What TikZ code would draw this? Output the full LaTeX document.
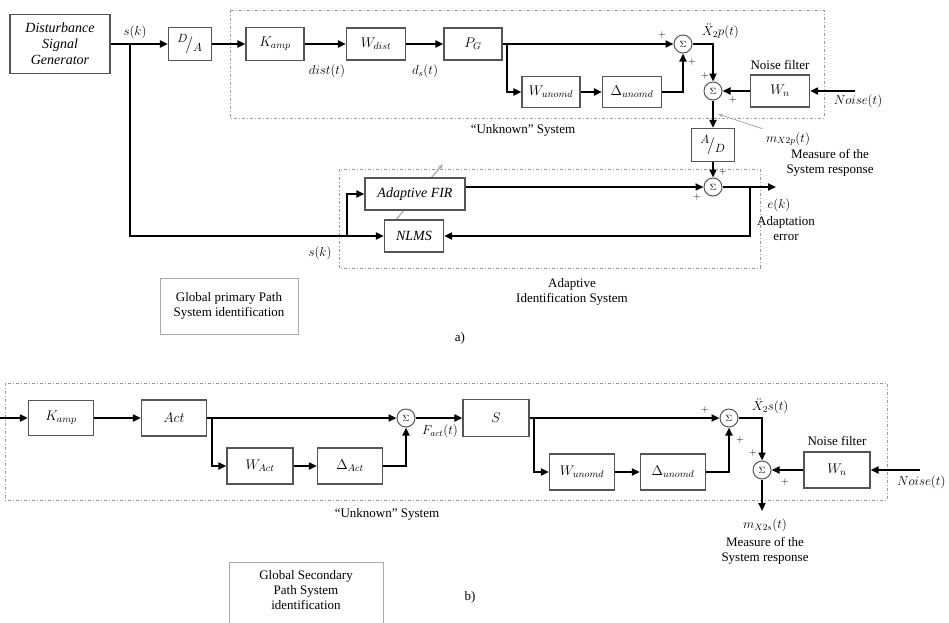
\RequirePackage{fix-cm}
\documentclass[tikz,border=0pt]{standalone}
\usepackage{fontspec}
\setmainfont{Liberation Serif}
\usetikzlibrary{arrows.meta}
\definecolor{boxgray}{RGB}{85,85,85}
\definecolor{dashgray}{RGB}{150,150,150}
\definecolor{pointgray}{RGB}{170,170,170}

\begin{document}
\begin{tikzpicture}[x=1pt,y=-1pt,font=\fontsize{13}{15}\selectfont,
  blk/.style={draw=boxgray,line width=1.3pt,fill=white,inner sep=1pt,align=center,font=\fontsize{14}{16}\selectfont},
  sumnode/.style={circle,draw=boxgray,line width=1pt,fill=white,inner sep=0pt,minimum size=18pt,font=\fontsize{9}{10}\selectfont},
  sig/.style={-{Triangle[length=8pt,width=7pt]},line width=2.1pt},
  dashbox/.style={dashgray,line width=0.9pt,dash pattern=on 3pt off 2pt on 1pt off 2pt},
  pls/.style={font=\fontsize{10}{10}\selectfont,inner sep=0pt},
  infobox/.style={draw=pointgray,line width=1pt,align=center,inner sep=2pt}]
  \clip (0,0) rectangle (949,622);
  % a) primary path
  \draw[dashbox] (230,10) rectangle (824,118);
  \draw[dashbox] (339,169) rectangle (760,268);
  \draw[pointgray,line width=1.2pt,-{Stealth[length=6pt]}] (395,221) -- (443,164);
  \node[blk,minimum width=100pt,minimum height=59pt,font=\fontsize{14}{16}\selectfont\itshape] (dsg) at (60,44) {Disturbance\\Signal\\Generator};
  \node[blk,minimum width=43pt,minimum height=33pt,font=\fontsize{17}{19}\selectfont] (da) at (190,44) {${}^{D}\!/_{A}$};
  \node[blk,minimum width=58pt,minimum height=33pt] (kamp1) at (275,44) {$K_{amp}$};
  \node[blk,minimum width=59pt,minimum height=32pt] (wdist) at (376,44) {$W_{dist}$};
  \node[blk,minimum width=58pt,minimum height=32pt] (pg) at (473,44) {$P_G$};
  \node[blk,minimum width=58pt,minimum height=31pt] (wun1) at (551,92) {$W_{unomd}$};
  \node[blk,minimum width=59pt,minimum height=31pt] (dun1) at (632,92) {$\Delta_{unomd}$};
  \node[sumnode] (sum1) at (683,44) {$\Sigma$};
  \node[sumnode] (sum2) at (713,91) {$\Sigma$};
  \node[blk,minimum width=59pt,minimum height=32pt] (wn1) at (780,91) {$W_n$};
  \node[blk,minimum width=43pt,minimum height=33pt,font=\fontsize{17}{19}\selectfont] (ad) at (713,145) {${}^{A}\!/_{D}$};
  \node[sumnode] (sum3) at (713,187) {$\Sigma$};
  \node[blk,minimum width=100pt,minimum height=32pt] (fir) at (415,194) {$\mathit{Adaptive\ FIR}$};
  \node[blk,minimum width=59pt,minimum height=32pt] (nlms) at (414,236) {$\mathit{NLMS}$};
  \coordinate (b1) at (130,44);
  \coordinate (b2) at (347,236);
  \coordinate (b3) at (750,187);
  \coordinate (b4) at (507,44);
  \coordinate (noise1) at (855,91);
  \coordinate (ek) at (776,187);
  \coordinate (mp) at (718,114);
  % signal paths
  \draw[sig] (dsg.east) -- (da.west);
  \draw[sig] (b1) |- (nlms.west);
  \draw[sig] (b2) |- (fir.west);
  \draw[sig] (da.east) -- (kamp1.west);
  \draw[sig] (kamp1.east) -- (wdist.west);
  \draw[sig] (wdist.east) -- (pg.west);
  \draw[sig] (pg.east) -- (sum1.west);
  \draw[sig] (b4) |- (wun1.west);
  \draw[sig] (wun1.east) -- (dun1.west);
  \draw[sig] (dun1.east) -| (sum1.south);
  \draw[sig] (sum1.east) -| (sum2.north);
  \draw[sig] (noise1) -- (wn1.east);
  \draw[sig] (wn1.west) -- (sum2.east);
  \draw[sig] (sum2.south) -- (ad.north);
  \draw[sig] (ad.south) -- (sum3.north);
  \draw[sig] (fir.east |- sum3.west) -- (sum3.west);
  \draw[sig] (sum3.east) -- (ek);
  \draw[sig] (b3) |- (nlms.east);
  % labels
  \node (sk1) at (135,32) {$s(k)$};
  \node (sk2) at (320,253) {$s(k)$};
  \node (distl) at (327,71) {$dist(t)$};
  \node (dsl) at (425,71) {$d_s(t)$};
  \node[anchor=west,inner sep=1pt] (x2p) at (701,31) {$\ddot{X}_2p(t)$};
  \node (nf1) at (780,65) {Noise filter};
  \node (noisel1) at (858,101) {$Noise(t)$};
  \node (mxp) at (788,139) {$m_{X2p}(t)$};
  \draw[pointgray,line width=0.8pt,-{Stealth[length=5pt]}] (mxp.north west) -- (mp);
  \node[align=center] (meas1) at (830,163) {Measure of the\\System response};
  \node[anchor=west] (ekl) at (764,205) {$e(k)$};
  \node[align=center] (adl) at (786,229) {Adaptation\\error};
  \node (unk1) at (523,130) {``Unknown'' System};
  \node[align=center] (ais) at (572,292) {Adaptive\\Identification System};
  \node[pls] (p1) at (662,35) {$+$};
  \node[pls] (p2) at (692,62) {$+$};
  \node[pls] (p3) at (705,76) {$+$};
  \node[pls] (p4) at (733,100) {$+$};
  \node[pls] (p5) at (723,172) {$+$};
  \node[pls] (p6) at (697,197) {$+$};
  \node[infobox,minimum width=138pt,minimum height=56pt] (gpp) at (229,306) {Global primary Path\\System identification};
  \node (lbla) at (460,338) {a)};
  % b) secondary path
  \draw[dashbox] (5,383) rectangle (887,500);
  \node[blk,minimum width=65pt,minimum height=35pt] (kamp2) at (61,418) {$K_{amp}$};
  \node[blk,minimum width=65pt,minimum height=36pt] (act) at (174,418) {$Act$};
  \node[blk,minimum width=66pt,minimum height=36pt] (wact) at (260,466) {$W_{Act}$};
  \node[blk,minimum width=65pt,minimum height=36pt] (dact) at (350,466) {$\Delta_{Act}$};
  \node[sumnode] (suma) at (406,418) {$\Sigma$};
  \node[blk,minimum width=66pt,minimum height=37pt] (sblk) at (496,418) {$S$};
  \node[blk,minimum width=65pt,minimum height=36pt] (wun2) at (582,472) {$W_{unomd}$};
  \node[blk,minimum width=65pt,minimum height=36pt] (dun2) at (673,472) {$\Delta_{unomd}$};
  \node[sumnode] (sumb) at (729,418) {$\Sigma$};
  \node[sumnode] (sumc) at (762,470) {$\Sigma$};
  \node[blk,minimum width=66pt,minimum height=36pt] (wn2) at (837,470) {$W_n$};
  \coordinate (in2) at (0,418);
  \coordinate (b5) at (212,418);
  \coordinate (b6) at (534,418);
  \coordinate (noise2) at (920,470);
  \coordinate (out2) at (762,511);
  \draw[sig] (in2) -- (kamp2.west);
  \draw[sig] (kamp2.east) -- (act.west);
  \draw[sig] (act.east) -- (suma.west);
  \draw[sig] (b5) |- (wact.west);
  \draw[sig] (wact.east) -- (dact.west);
  \draw[sig] (dact.east) -| (suma.south);
  \draw[sig] (suma.east) -- (sblk.west);
  \draw[sig] (sblk.east) -- (sumb.west);
  \draw[sig] (b6) |- (wun2.west);
  \draw[sig] (wun2.east) -- (dun2.west);
  \draw[sig] (dun2.east) -| (sumb.south);
  \draw[sig] (sumb.east) -| (sumc.north);
  \draw[sig] (noise2) -- (wn2.east);
  \draw[sig] (wn2.west) -- (sumc.east);
  \draw[sig] (sumc.south) -- (out2);
  % labels
  \node (fact) at (440,431) {$F_{act}(t)$};
  \node[anchor=west,inner sep=1pt] (x2s) at (751,406) {$\ddot{X}_2s(t)$};
  \node (nf2) at (837,441) {Noise filter};
  \node[anchor=east] (noisel2) at (949,482) {$Noise(t)$};
  \node (mxs) at (765,525) {$m_{X2s}(t)$};
  \node[align=center] (meas2) at (765,551) {Measure of the\\System response};
  \node (unk2) at (387,514) {``Unknown'' System};
  \node[pls] (p7) at (705,410) {$+$};
  \node[pls] (p8) at (740,440) {$+$};
  \node[pls] (p9) at (753,453) {$+$};
  \node[pls] (p10) at (785,482) {$+$};
  \node[infobox,minimum width=154pt,minimum height=80pt,anchor=north] (gsp) at (306,562) {};
  \node[align=center] (gspl) at (306,590) {Global Secondary\\Path System\\identification};
  \node (lblb) at (470,597) {b)};
\end{tikzpicture}
\end{document}
